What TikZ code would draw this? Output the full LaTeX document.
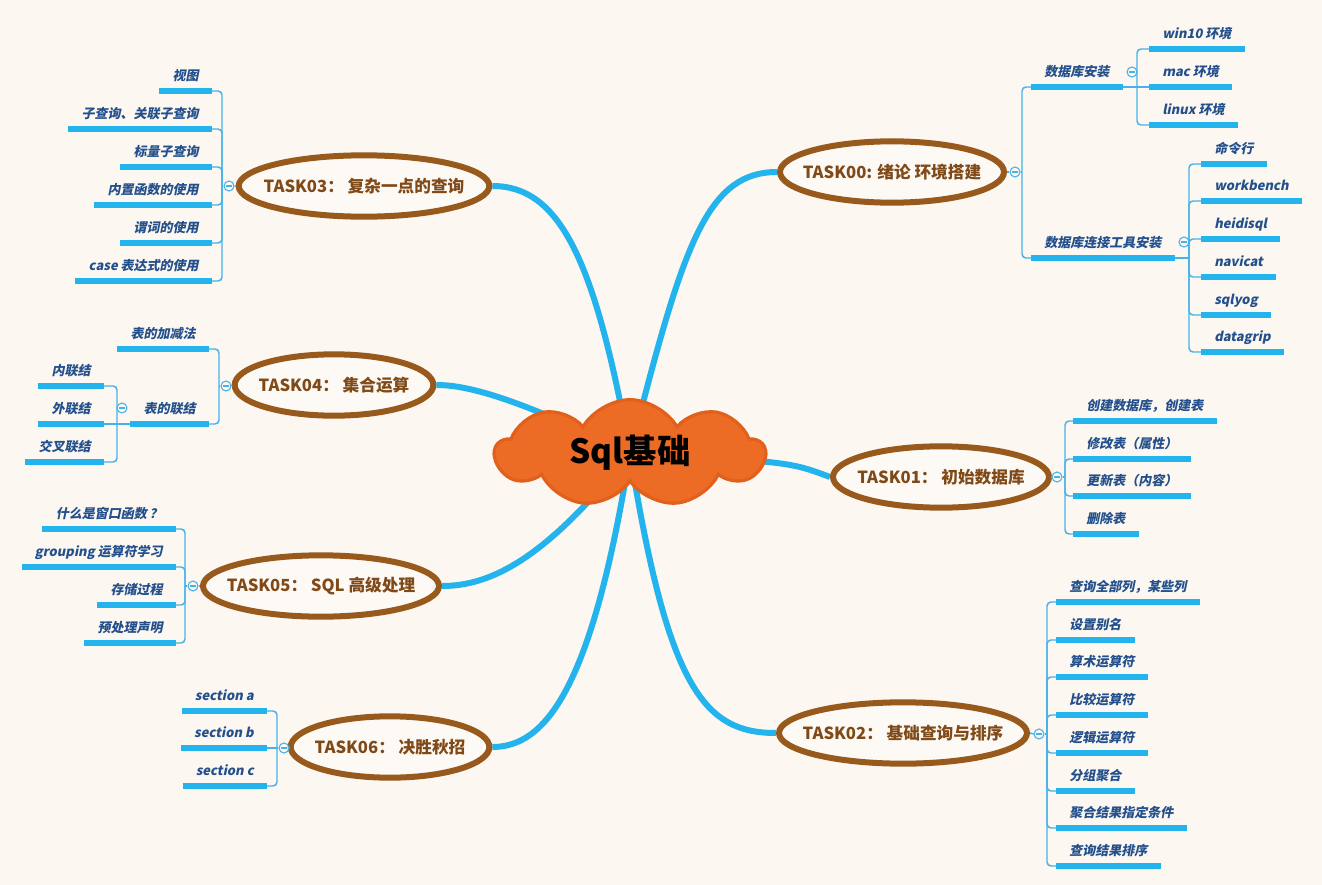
\documentclass[tikz,border=0pt]{standalone}
\usepackage{fontspec}
\setmainfont{Noto Sans CJK SC}
\newfontfamily\hei{Noto Sans CJK SC}
\newfontfamily\leaffont{Noto Sans CJK SC}[FakeSlant=0.2]
\usetikzlibrary{shapes.geometric,shapes.symbols}

\definecolor{bgcream}{RGB}{252,247,241}
\definecolor{barblue}{RGB}{35,180,238}
\definecolor{twigblue}{RGB}{70,178,232}
\definecolor{leafblue}{RGB}{35,80,140}
\definecolor{taskbrown}{RGB}{152,90,28}
\definecolor{tasktext}{RGB}{128,74,24}
\definecolor{taskfill}{RGB}{253,250,246}
\definecolor{cloudfill}{RGB}{236,108,38}
\definecolor{cloudline}{RGB}{224,96,28}

\pgfdeclarelayer{bg}
\pgfdeclarelayer{links}
\pgfsetlayers{bg,links,main}

\tikzset{
    bar/.style={draw=barblue, line width=4.5pt},
    trunk/.style={draw=barblue, line width=4.5pt},
    twig/.style={draw=twigblue, line width=1.1pt, rounded corners=3pt},
    leaf/.style={font=\leaffont\bfseries\fontsize{9.75}{12}\selectfont, text=leafblue,
        inner xsep=9.75pt, inner ysep=5.6pt, text height=8pt, text depth=2pt,
        append after command={(\tikzlastnode.south west) edge[bar] (\tikzlastnode.south east)}},
    task/.style={ellipse, draw=taskbrown, line width=4.5pt, fill=taskfill, inner xsep=-40pt, inner ysep=-4pt,
        minimum height=46pt, text=tasktext, font=\hei\bfseries\fontsize{12.5}{15}\selectfont},
    fold/.style={circle, draw=twigblue, fill=bgcream, line width=0.8pt, minimum size=7.5pt, inner sep=0pt,
        path picture={\draw[twigblue, line width=0.8pt] ([xshift=1.8pt]path picture bounding box.west) -- ([xshift=-1.8pt]path picture bounding box.east);}},
}

\begin{document}
\begin{tikzpicture}[x=0.75pt, y=-0.75pt]
    \useasboundingbox (0,0) rectangle (1322,885);
    \begin{pgfonlayer}{bg}
        \fill[bgcream] (0,0) rectangle (1322,885);
    \end{pgfonlayer}

    % centre
    \node[cloud, cloud puffs=9, cloud puff arc=120, cloud ignores aspect, shape border rotate=10,
        minimum width=202pt, minimum height=80pt,
        fill=cloudfill, draw=cloudline, line width=2.4pt, inner sep=0pt,
        font=\hei\bfseries\fontsize{25}{30}\selectfont] (sql) at (630,453) {Sql基础};

    % tasks
    \node[task, minimum width=168pt] (t00) at (892,172) {TASK00: 绪论 环境搭建};
    \node[task, minimum width=162pt] (t01) at (941,477) {TASK01：\ 初始数据库};
    \node[task, minimum width=186pt] (t02) at (903,733) {TASK02：\ 基础查询与排序};
    \node[task, minimum width=188pt] (t03) at (364,186) {TASK03：\ 复杂一点的查询};
    \node[task, minimum width=149pt] (t04) at (334,385) {TASK04：\ 集合运算};
    \node[task, minimum width=177pt] (t05) at (321,586) {TASK05：\ SQL 高级处理};
    \node[task, minimum width=149pt] (t06) at (390,747) {TASK06：\ 决胜秋招};

    \begin{pgfonlayer}{links}
        \draw[trunk] (sql.center) .. controls (682,250) and (705,172) .. (t00.west);
        \draw[trunk] (sql.center) .. controls (790,462) .. (t01.west);
        \draw[trunk] (sql.center) .. controls (668,690) and (705,733) .. (t02.west);
        \draw[trunk] (sql.center) .. controls (595,260) and (560,186) .. (t03.east);
        \draw[trunk] (sql.center) .. controls (520,400) and (470,385) .. (t04.east);
        \draw[trunk] (sql.center) .. controls (545,560) and (490,586) .. (t05.east);
        \draw[trunk] (sql.center) .. controls (592,690) and (545,747) .. (t06.east);
    \end{pgfonlayer}

    % TASK00
    \node[fold] (c00) at (1015,172) {};
    \coordinate (j00) at (1022,172);
    \node[leaf, anchor=south west] (k0a) at (1031,87) {数据库安装};
    \node[leaf, anchor=south west] (k0b) at (1031,258) {数据库连接工具安装};
    \node[fold] (c0a) at (1132,72) {};
    \coordinate (j0a) at (1137,87);
    \node[leaf, anchor=south west] (win) at (1149,49) {win10 环境};
    \node[leaf, anchor=south west] (mac) at (1149,87) {mac 环境};
    \node[leaf, anchor=south west] (linux) at (1149,125) {linux 环境};
    \node[fold] (c0b) at (1184,242) {};
    \coordinate (j0b) at (1189,258);
    \node[leaf, anchor=south west] (cmd) at (1201,164) {命令行};
    \node[leaf, anchor=south west] (bench) at (1201,201) {workbench};
    \node[leaf, anchor=south west] (heidi) at (1201,239) {heidisql};
    \node[leaf, anchor=south west] (navi) at (1201,277) {navicat};
    \node[leaf, anchor=south west] (yog) at (1201,315) {sqlyog};
    \node[leaf, anchor=south west] (grip) at (1201,352) {datagrip};
    \draw[twig] (t00.east) -- (c00.west);
    \draw[twig] (c00.east) -- (j00);
    \draw[twig] (j00) |- (k0a.south west);
    \draw[twig] (j00) |- (k0b.south west);
    \draw[twig] (k0a.south east) -- (j0a);
    \draw[twig] (j0a) |- (win.south west);
    \draw[twig] (j0a) -- (mac.south west);
    \draw[twig] (j0a) |- (linux.south west);
    \draw[twig] (k0b.south east) -- (j0b);
    \draw[twig] (j0b) |- (cmd.south west);
    \draw[twig] (j0b) |- (bench.south west);
    \draw[twig] (j0b) |- (heidi.south west);
    \draw[twig] (j0b) |- (navi.south west);
    \draw[twig] (j0b) |- (yog.south west);
    \draw[twig] (j0b) |- (grip.south west);

    % TASK01
    \node[fold] (c01) at (1057,477) {};
    \coordinate (j01) at (1065,477);
    \node[leaf, anchor=south west] (mk) at (1073,421) {创建数据库，创建表};
    \node[leaf, anchor=south west] (alter) at (1073,459) {修改表（属性）};
    \node[leaf, anchor=south west] (upd) at (1073,496) {更新表（内容）};
    \node[leaf, anchor=south west] (del) at (1073,534) {删除表};
    \draw[twig] (t01.east) -- (c01.west);
    \draw[twig] (c01.east) -- (j01);
    \draw[twig] (j01) |- (mk.south west);
    \draw[twig] (j01) |- (alter.south west);
    \draw[twig] (j01) |- (upd.south west);
    \draw[twig] (j01) |- (del.south west);

    % TASK02
    \node[fold] (c02) at (1039,734) {};
    \coordinate (j02) at (1047,734);
    \node[leaf, anchor=south west] (sel) at (1056,602) {查询全部列，某些列};
    \node[leaf, anchor=south west] (alias) at (1056,640) {设置别名};
    \node[leaf, anchor=south west] (arith) at (1056,677) {算术运算符};
    \node[leaf, anchor=south west] (cmp) at (1056,715) {比较运算符};
    \node[leaf, anchor=south west] (logic) at (1056,753) {逻辑运算符};
    \node[leaf, anchor=south west] (grp) at (1056,791) {分组聚合};
    \node[leaf, anchor=south west] (having) at (1056,828) {聚合结果指定条件};
    \node[leaf, anchor=south west] (order) at (1056,866) {查询结果排序};
    \draw[twig] (t02.east) -- (c02.west);
    \draw[twig] (c02.east) -- (j02);
    \draw[twig] (j02) |- (sel.south west);
    \draw[twig] (j02) |- (alias.south west);
    \draw[twig] (j02) |- (arith.south west);
    \draw[twig] (j02) |- (cmp.south west);
    \draw[twig] (j02) |- (logic.south west);
    \draw[twig] (j02) |- (grp.south west);
    \draw[twig] (j02) |- (having.south west);
    \draw[twig] (j02) |- (order.south west);

    % TASK03
    \node[fold] (c03) at (229,186) {};
    \coordinate (j03) at (222,186);
    \node[leaf, anchor=south east] (view) at (212,91) {视图};
    \node[leaf, anchor=south east] (subq) at (212,129) {子查询、关联子查询};
    \node[leaf, anchor=south east] (scal) at (212,167) {标量子查询};
    \node[leaf, anchor=south east] (func) at (212,205) {内置函数的使用};
    \node[leaf, anchor=south east] (pred) at (212,243) {谓词的使用};
    \node[leaf, anchor=south east] (case) at (212,281) {case 表达式的使用};
    \draw[twig] (t03.west) -- (c03.east);
    \draw[twig] (c03.west) -- (j03);
    \draw[twig] (j03) |- (view.south east);
    \draw[twig] (j03) |- (subq.south east);
    \draw[twig] (j03) |- (scal.south east);
    \draw[twig] (j03) |- (func.south east);
    \draw[twig] (j03) |- (pred.south east);
    \draw[twig] (j03) |- (case.south east);

    % TASK04
    \node[fold] (c04) at (226,386) {};
    \coordinate (j04) at (219,386);
    \node[leaf, anchor=south east] (k4a) at (209,349) {表的加减法};
    \node[leaf, anchor=south east] (k4b) at (209,424) {表的联结};
    \node[fold] (c4b) at (122,408) {};
    \coordinate (j4b) at (117,424);
    \node[leaf, anchor=south east] (inner) at (104,386) {内联结};
    \node[leaf, anchor=south east] (outer) at (104,424) {外联结};
    \node[leaf, anchor=south east] (cross) at (104,462) {交叉联结};
    \draw[twig] (t04.west) -- (c04.east);
    \draw[twig] (c04.west) -- (j04);
    \draw[twig] (j04) |- (k4a.south east);
    \draw[twig] (j04) |- (k4b.south east);
    \draw[twig] (k4b.south west) -- (j4b);
    \draw[twig] (j4b) |- (inner.south east);
    \draw[twig] (j4b) -- (outer.south east);
    \draw[twig] (j4b) |- (cross.south east);

    % TASK05
    \node[fold] (c05) at (193,586) {};
    \coordinate (j05) at (185,586);
    \node[leaf, anchor=south east] (win5) at (176,529) {什么是窗口函数 ？};
    \node[leaf, anchor=south east] (grping) at (176,567) {grouping 运算符学习};
    \node[leaf, anchor=south east] (proc) at (176,605) {存储过程};
    \node[leaf, anchor=south east] (prep) at (176,643) {预处理声明};
    \draw[twig] (t05.west) -- (c05.east);
    \draw[twig] (c05.west) -- (j05);
    \draw[twig] (j05) |- (win5.south east);
    \draw[twig] (j05) |- (grping.south east);
    \draw[twig] (j05) |- (proc.south east);
    \draw[twig] (j05) |- (prep.south east);

    % TASK06
    \node[fold] (c06) at (284,748) {};
    \coordinate (j06) at (277,748);
    \node[leaf, anchor=south east] (seca) at (267,711) {section a};
    \node[leaf, anchor=south east] (secb) at (267,748) {section b};
    \node[leaf, anchor=south east] (secc) at (267,786) {section c};
    \draw[twig] (t06.west) -- (c06.east);
    \draw[twig] (c06.west) -- (j06);
    \draw[twig] (j06) |- (seca.south east);
    \draw[twig] (j06) -- (secb.south east);
    \draw[twig] (j06) |- (secc.south east);
\end{tikzpicture}
\end{document}
